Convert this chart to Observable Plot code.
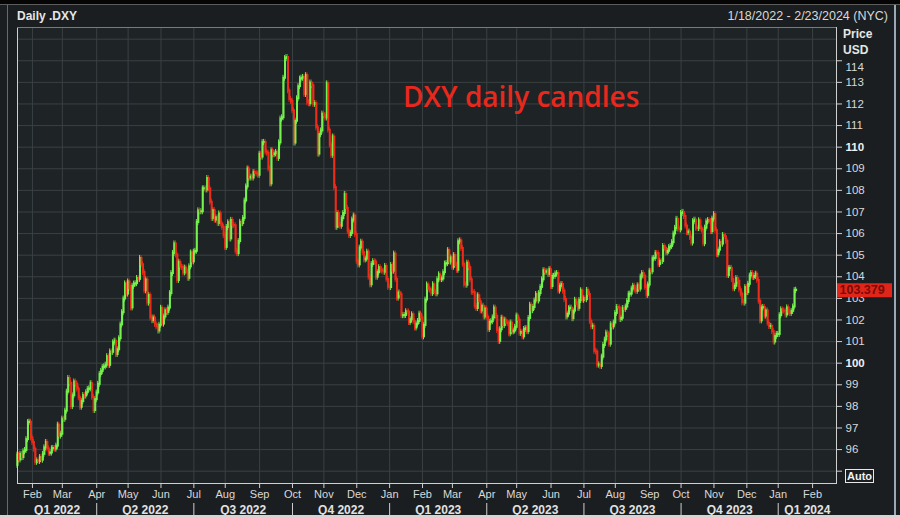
<!DOCTYPE html>
<html><head><meta charset="utf-8">
<script src="https://cdn.jsdelivr.net/npm/d3@7"></script>
<script src="https://cdn.jsdelivr.net/npm/@observablehq/plot@0.6"></script>
<style>
html,body{margin:0;padding:0;background:#1b1e20;}
#wrap{position:relative;width:900px;height:518px;overflow:hidden;background:#1b1e20;font-family:"Liberation Sans",Arial,sans-serif;}
#chart{position:absolute;left:0;top:0;}
.topbar{position:absolute;left:0;top:0;width:900px;height:4px;background:#050505;}
.topline{position:absolute;left:0;top:4px;width:900px;height:1px;background:#5c5c5c;}
.leftline{position:absolute;left:7px;top:5px;width:1px;height:510px;background:#6a6a6a;}
.rightline{position:absolute;left:894px;top:5px;width:2px;height:510px;background:#9aa7b5;}
.bottombar{position:absolute;left:0;top:515px;width:900px;height:3px;background:#d4d4d4;}
.title{position:absolute;left:17px;top:9px;font-weight:bold;font-size:12px;color:#e6e6e6;line-height:15px;}
.range{position:absolute;right:12px;top:9px;font-size:12.5px;color:#d8d8d8;line-height:15px;font-family:"Liberation Sans Narrow","Liberation Sans",Arial,sans-serif;}
.unit{position:absolute;left:843px;font-weight:bold;font-size:12px;color:#e6e6e6;line-height:14px;}
.auto{position:absolute;left:845px;top:469px;width:27px;height:12px;border:1px solid #e8e8e8;color:#f0f0f0;font-weight:bold;font-size:11px;line-height:12px;text-align:center;}
</style></head>
<body>
<div id="wrap">
  <div id="chart"></div>
  <div class="topbar"></div><div class="topline"></div>
  <div class="leftline"></div><div class="rightline"></div>
  <div class="bottombar"></div>
  <div class="title">Daily .DXY</div>
  <div class="range">1/18/2022 - 2/23/2024 (NYC)</div>
  <div class="unit" style="top:27px">Price</div>
  <div class="unit" style="top:43px">USD</div>
  <div class="auto">Auto</div>
</div>
<script>
// ---- data (daily closes, one per weekday starting 2022-01-18) ----
const firstOpen = 95.27;
const closes2022 = [
 95.74,95.52,95.78,95.63,95.90,95.96,96.46,97.25,97.27,96.54,
 96.33,96.02,95.41,95.48,95.45,95.63,95.51,95.78,96.08,96.33,96.03,95.83,95.84,96.04,96.05,96.02,96.16,97.13,96.62,96.71,
 97.41,97.40,97.78,98.66,99.29,99.06,97.99,98.49,99.13,99.03,98.80,98.40,97.96,98.22,98.50,98.48,98.63,98.78,98.81,99.05,98.42,97.81,98.31,
 98.62,99.02,99.48,99.62,99.80,99.83,99.91,100.30,99.90,100.52,100.50,100.94,101.02,100.40,100.62,101.13,101.77,102.34,102.97,103.67,103.20,
 103.76,103.46,102.56,103.56,103.66,103.68,103.92,103.88,104.85,104.56,104.20,103.35,103.85,102.78,103.14,102.09,101.97,102.09,101.80,101.68,101.49,101.76,
 102.54,101.81,102.14,102.42,102.35,102.55,103.22,104.15,105.08,105.52,105.01,103.83,104.67,104.45,104.43,104.18,104.40,104.21,103.93,104.46,105.10,104.69,
 105.14,105.18,106.51,107.05,107.01,107.01,108.07,108.07,108.02,108.55,108.07,107.45,106.70,107.06,106.62,106.73,106.47,106.91,106.45,106.29,105.90,
 105.36,106.28,106.50,105.75,106.61,106.38,106.36,105.18,105.07,105.63,106.52,106.46,106.70,107.51,108.16,108.99,108.57,108.61,108.57,108.82,108.78,108.76,108.70,
 109.67,109.54,110.21,110.22,109.77,109.72,108.99,108.30,109.83,109.65,109.69,109.76,109.48,110.20,111.30,111.36,113.19,114.10,114.15,112.61,112.21,112.12,
 111.69,110.19,111.20,112.24,112.80,113.15,113.19,113.23,112.44,113.31,112.05,112.01,112.97,112.85,111.98,112.02,110.90,109.68,110.58,110.75,111.53,
 111.46,111.35,112.93,110.79,110.10,109.62,110.47,108.13,106.29,106.93,106.38,106.34,106.69,106.93,107.81,107.16,106.11,105.91,106.01,106.63,106.81,105.95,
 104.71,104.55,105.33,105.60,105.12,104.78,104.82,105.14,103.98,103.63,104.57,104.70,104.68,103.98,104.19,104.42,104.31,104.26,104.21,104.48,103.88,103.52
];
const closes2023 = [
 103.50,104.52,104.26,105.05,103.88,103.01,103.25,103.17,102.20,102.20,102.21,102.38,102.37,101.88,102.01,102.24,101.92,101.63,101.81,101.93,102.27,102.10,
 101.22,101.75,102.92,103.62,103.42,103.39,103.23,103.63,103.26,103.21,103.86,104.09,103.87,103.90,104.19,104.59,104.61,105.21,104.68,104.87,
 104.44,104.98,104.52,104.30,105.62,105.66,105.31,104.58,103.62,103.61,104.63,104.42,103.86,103.28,103.27,102.64,102.53,103.12,102.85,102.42,102.64,102.14,102.51,
 102.13,101.56,101.89,101.92,102.10,102.55,102.17,101.51,101.01,101.55,102.08,101.74,101.99,101.86,101.83,101.36,101.86,101.45,101.49,101.66,
 102.18,101.99,101.38,101.43,101.22,101.56,101.60,101.46,102.07,102.68,102.43,102.58,102.88,103.18,102.88,103.22,103.51,103.86,104.28,104.21,104.23,104.11,104.33,
 103.55,104.02,104.02,104.13,104.15,103.34,103.56,103.64,103.34,102.95,102.14,102.27,102.52,102.55,102.06,102.41,102.91,102.72,102.54,102.90,103.35,102.91,
 102.98,102.94,103.37,103.18,101.94,101.69,101.71,100.55,100.52,99.91,99.92,99.85,100.28,100.82,101.07,101.39,101.32,100.88,101.78,101.68,101.86,
 102.30,102.58,102.56,102.02,102.08,102.53,102.49,102.60,102.85,103.19,103.20,103.43,103.56,103.38,103.33,103.58,103.43,103.99,104.15,104.03,103.51,103.14,103.62,
 104.25,104.23,104.83,104.85,105.08,105.07,104.57,104.72,104.71,105.40,105.32,105.11,105.18,105.35,105.40,105.58,105.98,106.24,106.66,106.21,106.17,
 106.93,106.98,106.79,106.35,106.04,106.07,105.82,105.56,106.55,106.62,106.25,106.23,106.59,106.22,106.16,105.53,106.25,106.54,106.60,106.56,106.09,106.67,
 106.88,106.14,105.02,105.23,105.58,105.51,105.91,105.86,105.65,104.06,104.38,104.39,103.87,103.45,103.56,103.92,103.79,103.40,103.20,102.80,102.78,103.50,
 103.27,103.65,104.03,104.15,103.97,104.01,104.12,103.83,102.87,101.96,102.55,102.58,102.18,102.42,101.85,101.70,101.70,101.46,100.98,101.23,101.33
];
const closes2024 = [
 101.33,102.20,102.47,102.42,102.41,102.23,102.56,102.36,102.30,102.40,102.60,103.36,103.379
];
const lastPriceLabel = ["103.379"];
const monthNames = ["Jan","Feb","Mar","Apr","May","Jun","Jul","Aug","Sep","Oct","Nov","Dec"];
const quarterLabels = ["Q1 2022","Q2 2022","Q3 2022","Q4 2022","Q1 2023","Q2 2023","Q3 2023","Q4 2023","Q1 2024"];
const yDomain = [94.43, 115.54];
const yTickMarks = [95,96,97,98,99,100,101,102,103,104,105,106,107,108,109,110,111,112,113,114];
const yLabelsRegular = [96,97,98,99,101,102,103,104,105,106,107,108,109,111,112,113];
const yLabelsBold = [100,110];
const yLabelsTop = [114];
const yGrid = [95,96,97,98,99,100,101,102,103,104,105,106,107,108,109,110,111,112,113,114,115];
const annotation = [{text:"DXY daily candles", date:"2023-01-13", value:111.85}];

// ---- trading-day calendar (weekdays) ----
const DAY = 864e5;
const t0 = Date.UTC(2022,0,18), t1 = Date.UTC(2024,1,23);
const days = [];
for (let t = t0; t <= t1; t += DAY) { const wd = new Date(t).getUTCDay(); if (wd > 0 && wd < 6) days.push(new Date(t)); }
const idxOf = s => days.findIndex(d => d.toISOString().slice(0,10) === s);
const monthTicks = [];
for (let i = 1; i < days.length; i++) if (days[i].getUTCMonth() !== days[i-1].getUTCMonth()) monthTicks.push(i);
const monthLabel = new Map(monthTicks.map(i => [i, monthNames[days[i].getUTCMonth()]]));
const qBounds = monthTicks.filter(i => days[i].getUTCMonth() % 3 === 0);
const qEdges = [0, ...qBounds, days.length - 1];
const quarters = quarterLabels.map((label, k) => ({label, mid: (qEdges[k] + qEdges[k+1]) / 2}));

const closes = [...closes2022, ...closes2023, ...closes2024];
const candles = closes.map((c, i) => ({i, open: i ? closes[i-1] : firstOpen, close: c}));
const lastClose = closes[closes.length - 1];

const GREEN = "#76f24e", RED = "#ee2a19", GRID = "#3a4043", AX = "#d9d9d9";
const col = d => d.close >= d.open ? GREEN : RED;

const chart = Plot.plot({
  width: 900, height: 518,
  marginTop: 27, marginLeft: 17, marginRight: 64, marginBottom: 35,
  style: {background: "transparent", color: AX, fontFamily: "'Liberation Sans', Arial, sans-serif", fontSize: "11px"},
  x: {type: "linear", domain: [0, days.length - 1], axis: null},
  y: {domain: yDomain, axis: null},
  marks: [
    Plot.frame({fill: "#1e2326", stroke: null}),
    Plot.gridY(yGrid, {stroke: GRID, strokeOpacity: 1}),
    Plot.gridX(monthTicks, {stroke: GRID, strokeOpacity: 1}),
    // wicks
    Plot.rect(candles, {x1: d => d.i - 0.32, x2: d => d.i + 0.32, y1: "open", y2: "close",
      insetTop: -3, insetBottom: -3, fill: col}),
    // bodies
    Plot.ruleX(candles, {x: "i", y1: "open", y2: "close",
      stroke: col, strokeWidth: 2, strokeLinecap: "square"}),
    Plot.frame({stroke: "#cfcfcf", fill: null}),
    Plot.ruleY([yDomain[1]], {stroke: "#7a7a7a"}),
    Plot.axisX({ticks: monthTicks, tickFormat: i => monthLabel.get(i), tickSize: 5, tickPadding: 2, fontSize: 11, color: AX, stroke: "#cfcfcf"}),
    Plot.ruleX(qBounds, {insetTop: 476, insetBottom: -32, stroke: "#cfcfcf"}),
    Plot.text(quarters, {x: "mid", text: "label", frameAnchor: "bottom", dy: 30, lineAnchor: "bottom", fontWeight: "bold", fontSize: 12, fill: "#e2e2e2"}),
    Plot.axisY({anchor: "right", ticks: yTickMarks, tickSize: 5, tickFormat: () => "", stroke: "#cfcfcf"}),
    Plot.text(yLabelsRegular, {y: d => d, text: d => String(d), frameAnchor: "right", dx: 9, textAnchor: "start", fill: AX, fontSize: 11.5}),
    Plot.text(yLabelsBold, {y: d => d, text: d => String(d), frameAnchor: "right", dx: 9, textAnchor: "start", fill: "#f0f0f0", fontSize: 11.5, fontWeight: "bold"}),
    Plot.text(yLabelsTop, {y: d => d, text: d => String(d), frameAnchor: "right", dx: 9, dy: 7, textAnchor: "start", fill: AX, fontSize: 11.5}),
    Plot.tickY([lastClose], {y: d => d, insetLeft: 820, insetRight: -56, stroke: "#e0261a", strokeWidth: 14}),
    Plot.text(lastPriceLabel, {y: () => lastClose, text: d => d, frameAnchor: "right", dx: 3, textAnchor: "start", fill: "#7a0b05", fontSize: 12.5, fontWeight: "bold"}),
    Plot.text(annotation, {x: d => idxOf(d.date), y: "value", text: "text", textAnchor: "start", lineAnchor: "bottom",
      fill: "#e8281c", fontSize: 28, fontWeight: 600, fontFamily: "'Open Sans', sans-serif"})
  ]
});
document.getElementById("chart").appendChild(chart);
</script>
</body></html>
